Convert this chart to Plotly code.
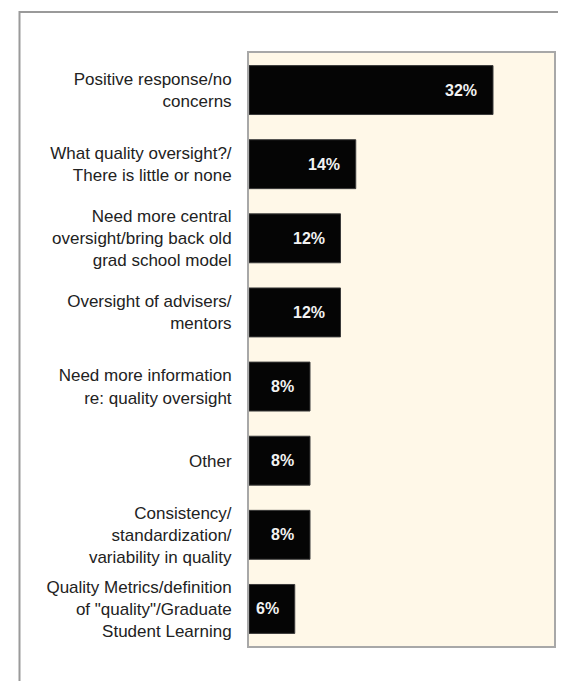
import plotly.graph_objects as go

# responses, top to bottom
categories = [
    "Positive response/no<br>concerns",
    "What quality oversight?/<br>There is little or none",
    "Need more central<br>oversight/bring back old<br>grad school model",
    "Oversight of advisers/<br>mentors",
    "Need more information<br>re: quality oversight",
    "Other",
    "Consistency/<br>standardization/<br>variability in quality",
    "Quality Metrics/definition<br>of \"quality\"/Graduate<br>Student Learning",
]
percent = [32, 14, 12, 12, 8, 8, 8, 6]
labels = [f"<b>{p}%</b>" for p in percent]

W, H = 566, 681
left, right, top, bottom = 241, 20, 45, 43
pw = W - left - right
ph = H - top - bottom


def px_x(x):
    return (x - left) / pw


def px_y(y):
    return (H - bottom - y) / ph


fig = go.Figure()
fig.add_trace(go.Bar(
    x=percent, y=categories, orientation="h",
    marker=dict(color="#050505", line=dict(color="#3a3a3a", width=1)),
    hoverinfo="skip",
))

for c, p, t in zip(categories, percent, labels):
    fig.add_annotation(x=p, y=c, text=t, showarrow=False, xanchor="right",
                       xshift=-14, font=dict(color="#f2f2f2", size=16,
                                             family="Liberation Sans"))

# outer frame of the page
fig.add_shape(type="rect", xref="paper", yref="paper",
              x0=px_x(11.5), x1=px_x(575), y0=px_y(695), y1=px_y(4),
              line=dict(color="#9a9a9a", width=2), fillcolor="rgba(0,0,0,0)",
              layer="below")

fig.update_layout(
    width=W, height=H,
    margin=dict(l=left, r=right, t=top, b=bottom),
    paper_bgcolor="white",
    plot_bgcolor="#FFF8E8",
    showlegend=False,
    bargap=0.34,
    font=dict(family="Liberation Sans", size=17, color="#222"),
)
fig.update_xaxes(range=[0, 40], showticklabels=False, showgrid=False,
                 zeroline=False, showline=True, mirror=True,
                 linecolor="#a8a8a8", linewidth=2)
fig.update_yaxes(range=[7.5, -0.5], showgrid=False, zeroline=False,
                 showline=True, mirror=True, linecolor="#a8a8a8",
                 linewidth=2, ticks="", ticklabelstandoff=12)

fig.write_html("out.html")
